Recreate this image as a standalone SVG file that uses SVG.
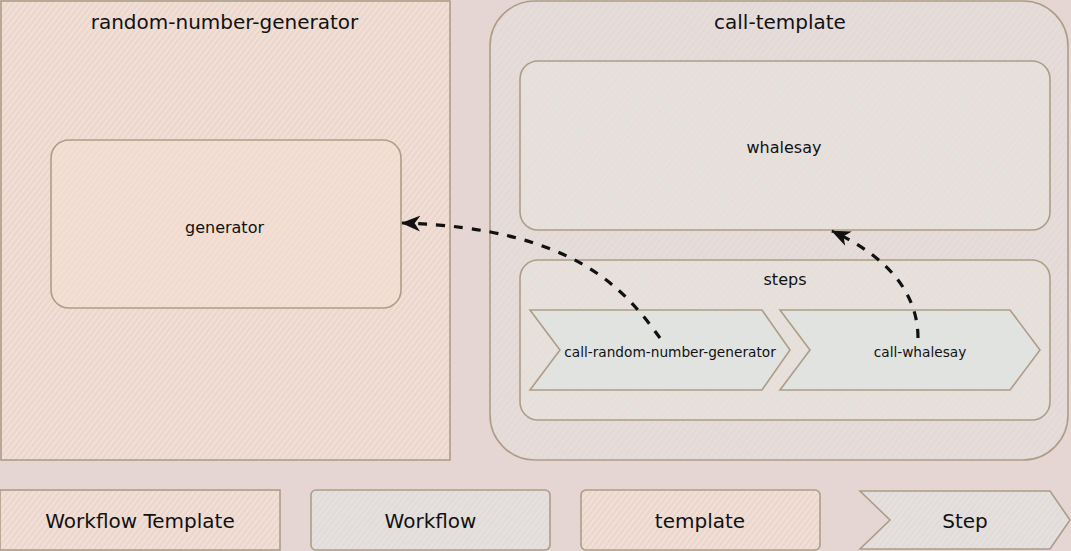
<svg xmlns="http://www.w3.org/2000/svg" width="1071" height="551" viewBox="0 0 1071 551">
  <style>
    .edge { stroke: #ad9d87; stroke-width: 1.6; fill: none; }
    .lbl { font-family: "DejaVu Sans", "Liberation Sans", sans-serif; fill: #111111; text-anchor: middle; }
    .t20 { font-size: 20px; }
    .t16 { font-size: 16px; }
    .t14 { font-size: 13.7px; }
    .conn { stroke: #111111; stroke-width: 3.2; fill: none; stroke-dasharray: 9 9; }
  </style>
  <defs>
    <pattern id="hO" patternUnits="userSpaceOnUse" width="4.5" height="4.5" patternTransform="rotate(38)">
      <rect width="1.7" height="4.5" fill="#f7e0d2"/>
    </pattern>
    <pattern id="hB" patternUnits="userSpaceOnUse" width="4.5" height="4.5" patternTransform="rotate(38)">
      <rect width="1.7" height="4.5" fill="#dfe4e3"/>
    </pattern>
    <pattern id="hBs" patternUnits="userSpaceOnUse" width="5" height="5" patternTransform="rotate(38)">
      <rect width="1.4" height="5" fill="#e0e1e0"/>
    </pattern>
    <pattern id="hO2" patternUnits="userSpaceOnUse" width="6" height="6" patternTransform="rotate(42)">
      <rect x="3" width="1.4" height="6" fill="#f1ddd2"/>
    </pattern>
    <marker id="arr" viewBox="0 0 12 10" refX="11.5" refY="5" markerUnits="userSpaceOnUse" markerWidth="19" markerHeight="16" orient="auto">
      <path d="M0,0 L12,5 L0,10 L3.5,5 Z" fill="#111111"/>
    </marker>
  </defs>

  <rect width="1071" height="551" fill="#e5d6d3"/>

  <g id="random-number-generator">
    <rect x="1" y="1" width="449" height="459" fill="#e9d8d1"/>
    <rect x="1" y="1" width="449" height="459" fill="url(#hO)"/>
    <rect x="1" y="1" width="449" height="459" class="edge"/>
    <text x="224.5" y="29" class="lbl t20">random-number-generator</text>
  </g>

  <g id="generator">
    <rect x="51" y="140" width="350" height="168" rx="18" fill="#efdbd2"/>
    <rect x="51" y="140" width="350" height="168" rx="18" fill="url(#hO)"/>
    <rect x="51" y="140" width="350" height="168" rx="18" class="edge"/>
    <text x="224.5" y="233" class="lbl t16">generator</text>
  </g>

  <g id="call-template">
    <rect x="490" y="1" width="578" height="459" rx="45" fill="#e6d8d5"/>
    <rect x="490" y="1" width="578" height="459" rx="45" fill="url(#hBs)"/>
    <rect x="490" y="1" width="578" height="459" rx="45" class="edge"/>
    <text x="780" y="29" class="lbl t20">call-template</text>
  </g>

  <g id="whalesay">
    <rect x="520" y="61" width="530" height="169" rx="18" fill="#e5dedb"/>
    <rect x="520" y="61" width="530" height="169" rx="18" fill="url(#hB)"/>
    <rect x="520" y="61" width="530" height="169" rx="18" fill="url(#hO2)"/>
    <rect x="520" y="61" width="530" height="169" rx="18" class="edge"/>
    <text x="784" y="153" class="lbl t16">whalesay</text>
  </g>

  <g id="steps">
    <rect x="520" y="260" width="530" height="160" rx="18" fill="#e5dedb"/>
    <rect x="520" y="260" width="530" height="160" rx="18" fill="url(#hB)"/>
    <rect x="520" y="260" width="530" height="160" rx="18" fill="url(#hO2)"/>
    <rect x="520" y="260" width="530" height="160" rx="18" class="edge"/>
    <text x="785" y="285" class="lbl t16">steps</text>
  </g>

  <g id="call-random-number-generator">
    <polygon points="530,310 762,310 790,350 762,390 530,390 560,350" fill="#e2e2df"/>
    <polygon points="530,310 762,310 790,350 762,390 530,390 560,350" fill="url(#hB)"/>
    <polygon points="530,310 762,310 790,350 762,390 530,390 560,350" class="edge"/>
    <text x="670" y="357" class="lbl t14">call-random-number-generator</text>
  </g>

  <g id="call-whalesay">
    <polygon points="780,310 1010,310 1040,350 1010,390 780,390 810,350" fill="#e2e2df"/>
    <polygon points="780,310 1010,310 1040,350 1010,390 780,390 810,350" fill="url(#hB)"/>
    <polygon points="780,310 1010,310 1040,350 1010,390 780,390 810,350" class="edge"/>
    <text x="920" y="357" class="lbl t14">call-whalesay</text>
  </g>

  <g id="connectors">
    <path d="M660,338 C625,290 575,228 402,223" class="conn" marker-end="url(#arr)"/>
    <path d="M918,338 C918,295 890,258 832,231" class="conn" marker-end="url(#arr)"/>
  </g>

  <g id="legend-workflow-template">
    <rect x="0" y="490" width="280" height="60" fill="#e9d8d1"/>
    <rect x="0" y="490" width="280" height="60" fill="url(#hO)"/>
    <rect x="0" y="490" width="280" height="60" class="edge"/>
    <text x="140" y="528" class="lbl t20">Workflow Template</text>
  </g>

  <g id="legend-workflow">
    <rect x="311" y="490" width="239" height="60" rx="5" fill="#e5dad7"/>
    <rect x="311" y="490" width="239" height="60" rx="5" fill="url(#hB)"/>
    <rect x="311" y="490" width="239" height="60" rx="5" class="edge"/>
    <text x="430.5" y="528" class="lbl t20">Workflow</text>
  </g>

  <g id="legend-template">
    <rect x="581" y="490" width="239" height="60" rx="5" fill="#e9d8d1"/>
    <rect x="581" y="490" width="239" height="60" rx="5" fill="url(#hO)"/>
    <rect x="581" y="490" width="239" height="60" rx="5" class="edge"/>
    <text x="700" y="528" class="lbl t20">template</text>
  </g>

  <g id="legend-step">
    <polygon points="860,491 1050,491 1070,520 1050,549 860,549 890,520" fill="#e5dad7"/>
    <polygon points="860,491 1050,491 1070,520 1050,549 860,549 890,520" fill="url(#hB)"/>
    <polygon points="860,491 1050,491 1070,520 1050,549 860,549 890,520" class="edge"/>
    <text x="965" y="528" class="lbl t20">Step</text>
  </g>
</svg>
